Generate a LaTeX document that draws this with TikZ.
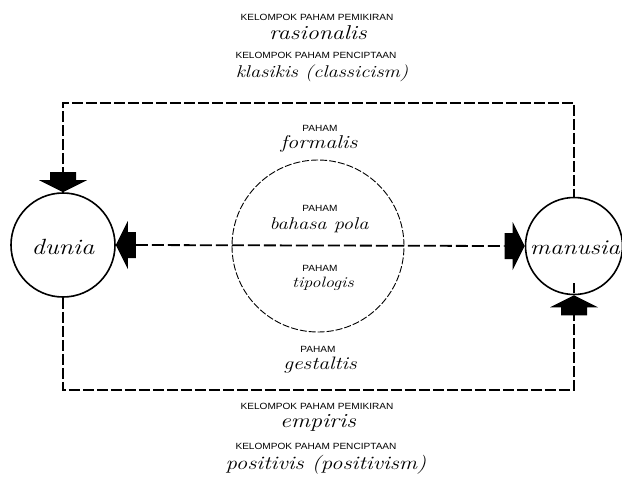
\documentclass[tikz,border=0pt]{standalone}
\usepackage{fontspec}
\newfontfamily\capsfont{Liberation Sans}[FakeStretch=1.12]
\newfontfamily\handfont{Latin Modern Roman}[FakeStretch=1.2]
\begin{document}
\begin{tikzpicture}[x=1pt,y=-1pt,
  caps/.style={font=\capsfont\fontsize{9}{10}\selectfont, inner sep=0pt},
  hand/.style={font=\handfont\itshape\fontsize{#1}{#1}\selectfont, inner sep=0pt},
  world/.style={circle, draw, line width=1.6pt, inner sep=0pt},
  frameline/.style={dash pattern=on 11pt off 3pt, line width=1.3pt},
  midline/.style={dash pattern=on 12pt off 4pt, line width=1.8pt},
  ringline/.style={dash pattern=on 7pt off 2pt, line width=0.9pt},
  blockarrow/.pic={\fill (0,0) -- (-12,-24) -- (-12,-13) -- (-20,-13) -- (-20,13) -- (-12,13) -- (-12,24) -- cycle;}
]
\useasboundingbox (0,0) rectangle (622,488);
% main nodes
\node[world, minimum size=104pt] (dunia) at (63,245) {};
\node[hand=22] (duniatext) at (63,247) {dunia};
\node[world, minimum size=97pt] (manusia) at (574,246) {};
\node[hand=21] (manusiatext) at (575,248) {manusia};
\node[circle, draw, ringline, minimum size=172pt, inner sep=0pt] (ring) at (318,246) {};
% frame corners
\coordinate (tl) at (63,103);
\coordinate (tr) at (574,103);
\coordinate (bl) at (63,390);
\coordinate (br) at (574,390);
% frame
\draw[frameline] (dunia.north) ++(0,-14) -- (tl) -- (tr) -- (manusia.north);
\draw[frameline] (dunia.south) -- (bl) -- (br) -- ([yshift=12pt]manusia.south);
% middle line
\draw[midline] ([xshift=20pt]dunia.east) -- ([xshift=-20pt]manusia.west);
% block arrows
\pic[rotate=-90] at (dunia.north) {blockarrow};
\pic[rotate=180] at (dunia.east) {blockarrow};
\pic at (manusia.west) {blockarrow};
\pic[rotate=90] at (manusia.south) {blockarrow};
% texts
\node[caps] (t1) at (317,17) {KELOMPOK PAHAM PEMIKIRAN};
\node[hand=20] (t2) at (318,33) {rasionalis};
\node[caps] (t3) at (316,55) {KELOMPOK PAHAM PENCIPTAAN};
\node[hand=17] (t4) at (322,73) {klasikis (classicism)};
\node[caps] (t5) at (320,128) {PAHAM};
\node[hand=18.5] (t6) at (319,144) {formalis};
\node[caps] (t7) at (320,208) {PAHAM};
\node[hand=17] (t8) at (319,225) {bahasa pola};
\node[caps] (t9) at (320,268) {PAHAM};
\node[hand=15] (t10) at (323,284) {tipologis};
\node[caps] (t11) at (318,349) {PAHAM};
\node[hand=18] (t12) at (320,365) {gestaltis};
\node[caps] (t13) at (317,406) {KELOMPOK PAHAM PEMIKIRAN};
\node[hand=20] (t14) at (318,423) {empiris};
\node[caps] (t15) at (316,446) {KELOMPOK PAHAM PENCIPTAAN};
\node[hand=19] (t16) at (326,465) {positivis (positivism)};
\end{tikzpicture}
\end{document}
